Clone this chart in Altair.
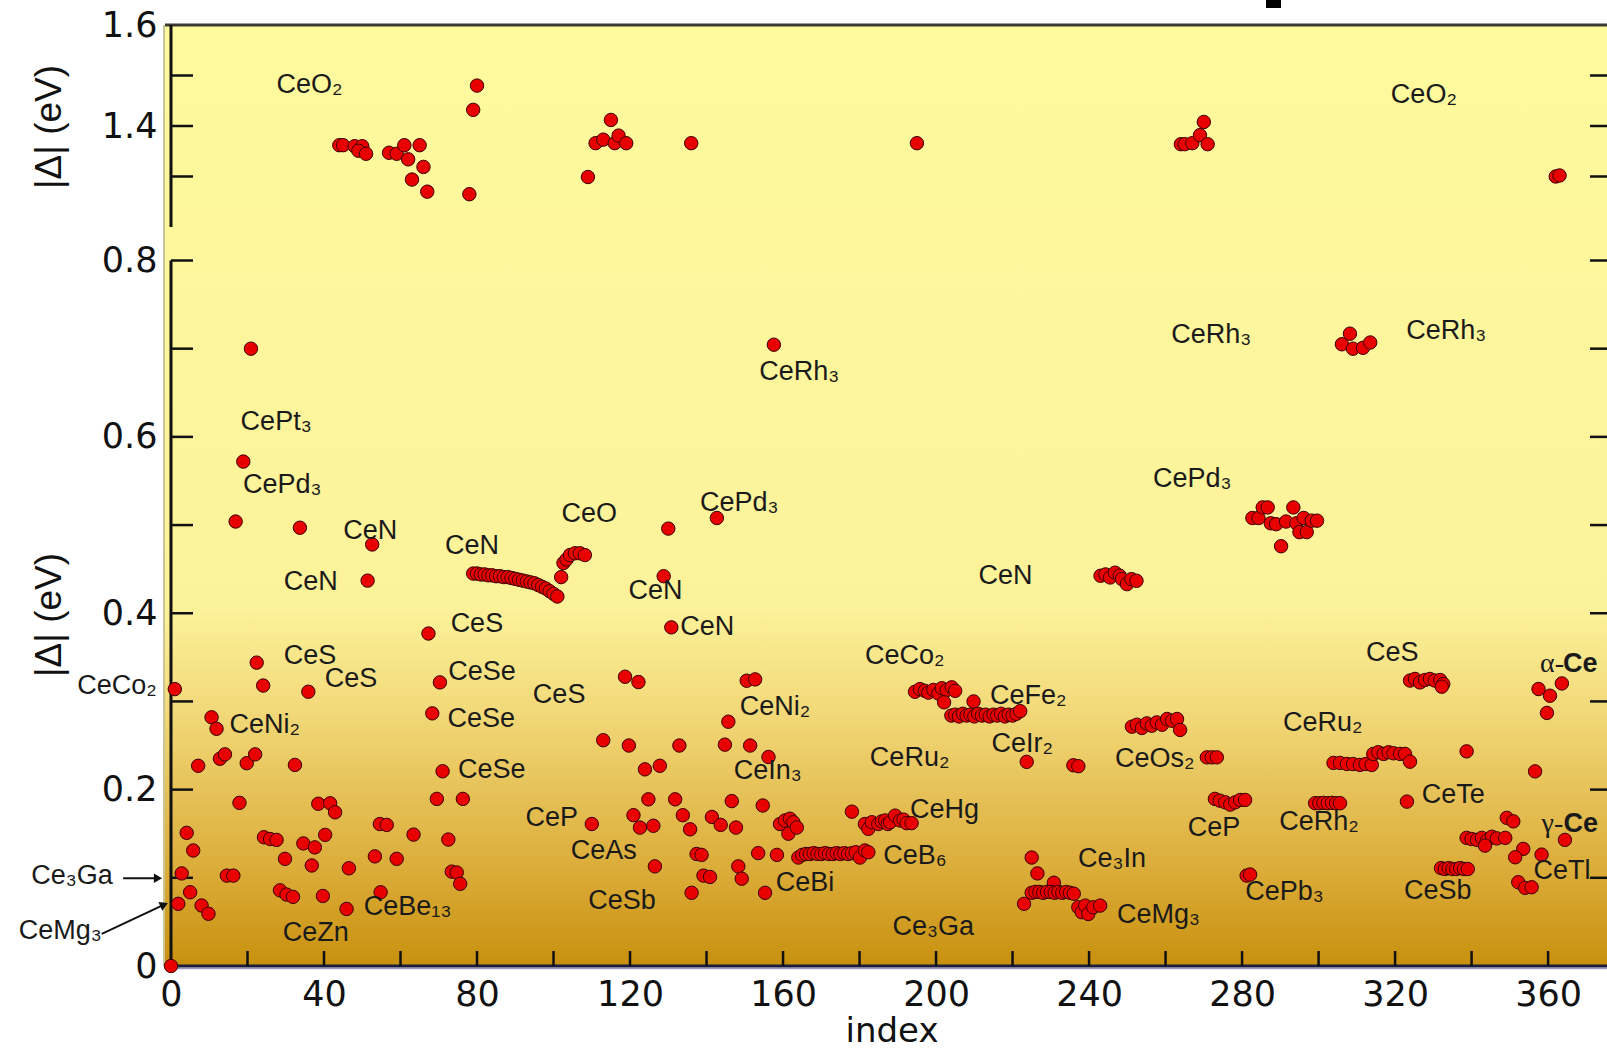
import altair as alt
import pandas as pd

# ---------------- data: (index, |Delta| in eV) ----------------
pts_upper = [(44, 1.362), (45, 1.362), (48, 1.360), (50, 1.360), (49, 1.351), (51, 1.345),
             (57, 1.347), (59, 1.345), (61, 1.362), (62, 1.334), (65, 1.362), (66, 1.319),
             (63, 1.294), (67, 1.270), (80, 1.480), (79, 1.432), (78, 1.265),
             (109, 1.299), (111, 1.366), (113, 1.373), (115, 1.412), (116, 1.366), (117, 1.381),
             (119, 1.366), (136, 1.366), (195, 1.366),
             (264, 1.364), (265, 1.364), (267, 1.366), (269, 1.382), (270, 1.408), (271, 1.364),
             (362, 1.300), (363, 1.302)]

pts_0_40 = [(0, 0.0), (1.0, 0.314), (1.9, 0.0705), (2.8, 0.105), (4.1, 0.151), (5.0, 0.0836),
            (5.8, 0.131), (7.1, 0.227), (8.0, 0.0686), (9.8, 0.0592), (10.6, 0.282), (11.9, 0.269),
            (12.8, 0.235), (14.1, 0.240), (14.6, 0.1025), (16.3, 0.1025), (16.9, 0.504), (17.9, 0.185),
            (18.9, 0.572), (19.8, 0.230), (20.9, 0.700), (22.0, 0.240), (22.4, 0.344), (24.1, 0.318),
            (24.3, 0.146), (25.9, 0.144), (27.6, 0.143), (28.5, 0.0858), (29.8, 0.1215), (30.2, 0.081),
            (31.9, 0.0784), (32.4, 0.228), (33.7, 0.497), (34.6, 0.139), (35.9, 0.311), (36.8, 0.114),
            (37.6, 0.1345), (38.5, 0.184), (39.7, 0.0794)]

pts_40_80 = [(40.3, 0.1487), (41.6, 0.1845), (42.9, 0.1743), (45.9, 0.0647), (46.5, 0.1108),
             (51.4, 0.437), (52.6, 0.478), (53.3, 0.1243), (54.6, 0.161), (54.8, 0.0836), (56.4, 0.160),
             (59.0, 0.1215), (63.4, 0.149), (67.3, 0.377), (68.3, 0.2865), (69.5, 0.1895), (70.3, 0.3216),
             (71.0, 0.2208), (72.5, 0.1434), (73.4, 0.107), (74.7, 0.106), (75.6, 0.0932), (76.3, 0.1895)]

pts_cen_line = [(79, 0.445), (80, 0.445), (81, 0.444), (82, 0.444), (83, 0.443), (84, 0.443), (85, 0.442),
                (86, 0.442), (87, 0.441), (88, 0.441), (89, 0.440), (90, 0.439), (91, 0.438), (92, 0.437),
                (93, 0.436), (94, 0.435), (95, 0.434), (96, 0.432), (97, 0.430), (98, 0.428), (99, 0.425),
                (100, 0.422), (101, 0.419)]

pts_ceo = [(102, 0.441), (102.6, 0.457), (103.4, 0.461), (104.3, 0.466), (105.6, 0.468), (106.9, 0.468),
           (108.2, 0.466)]

pts_110_160 = [(110.0, 0.161), (113.0, 0.256), (118.7, 0.328), (119.7, 0.250), (120.9, 0.171), (122.2, 0.322),
               (122.6, 0.157), (123.9, 0.223), (124.8, 0.189), (126.1, 0.159), (126.5, 0.113), (127.8, 0.227),
               (128.8, 0.442), (130.0, 0.496), (130.8, 0.384), (131.8, 0.189), (132.9, 0.250), (133.8, 0.171),
               (135.7, 0.155), (136.1, 0.083), (137.4, 0.127), (138.7, 0.126), (139.2, 0.1025), (140.9, 0.101),
               (141.4, 0.169), (142.7, 0.508), (143.7, 0.160), (144.8, 0.251), (145.7, 0.277), (146.6, 0.187),
               (147.7, 0.157), (148.3, 0.113), (149.2, 0.099), (150.5, 0.3235), (151.4, 0.250), (152.7, 0.325),
               (153.5, 0.128), (154.7, 0.182), (155.3, 0.083), (156.2, 0.237), (157.6, 0.7045), (158.4, 0.126)]

pts_cein3 = [(159.2, 0.161), (160.5, 0.165), (161.8, 0.167), (162.7, 0.163), (161.4, 0.150), (163.6, 0.157)]

pts_ceb6 = [(164, 0.123), (165, 0.126), (166, 0.127), (167, 0.127), (168, 0.128), (169, 0.127), (170, 0.127),
            (171, 0.128), (172, 0.127), (173, 0.127), (174, 0.128), (175, 0.127), (176, 0.128), (177, 0.127),
            (178, 0.128), (179, 0.129), (180.1, 0.123), (181.4, 0.131), (182.3, 0.129), (178.0, 0.175)]

pts_cehg = [(181.4, 0.161), (182.3, 0.1555), (183.2, 0.163), (184.9, 0.161), (185.8, 0.164), (186.7, 0.165),
            (187.4, 0.161), (188.0, 0.163), (189.3, 0.1705), (190.6, 0.165), (191.5, 0.166), (192.3, 0.162),
            (193.6, 0.162)]

pts_ceco2 = [(194.5, 0.311), (195.8, 0.314), (197.1, 0.312), (198.0, 0.310), (199.3, 0.313), (200.6, 0.309),
             (201.5, 0.315), (202.8, 0.313), (204.1, 0.316), (205.0, 0.312), (202.1, 0.299)]

pts_cefe2 = [(204, 0.284), (205, 0.285), (206, 0.283), (207, 0.286), (208, 0.284), (209, 0.285), (210, 0.283),
             (211, 0.286), (212, 0.284), (213, 0.285), (214, 0.283), (215, 0.285), (216, 0.284), (217, 0.286),
             (218, 0.283), (219, 0.285), (220, 0.284), (221, 0.286), (222, 0.289), (209.8, 0.300)]

pts_220_245 = [(223.7, 0.2315), (235.9, 0.2276), (237.2, 0.2266), (225.0, 0.123), (226.5, 0.105), (230.8, 0.0944),
               (223.0, 0.0705), (225, 0.083), (226, 0.084), (227, 0.084), (228, 0.083), (229, 0.084),
               (230, 0.084), (231, 0.083), (232, 0.084), (233, 0.083), (234, 0.084), (235, 0.083), (236, 0.082),
               (237.2, 0.0666), (238.1, 0.061), (239.0, 0.0685), (239.8, 0.059), (241.1, 0.0666), (242.9, 0.0685)]

pts_cen_cluster = [(243.0, 0.4425), (244.3, 0.444), (245.5, 0.4406), (246.8, 0.446), (248.0, 0.4425),
                   (248.6, 0.4387), (249.9, 0.433), (251.1, 0.4387), (252.4, 0.4368)]

pts_ceos2 = [(251.2, 0.2714), (252.5, 0.2736), (253.8, 0.2699), (255.1, 0.2751), (256.4, 0.2725), (257.7, 0.2762),
             (259.1, 0.2736), (260.4, 0.2801), (261.7, 0.2781), (263.0, 0.2801), (263.8, 0.2677),
             (270.8, 0.2366), (272.1, 0.2366), (273.4, 0.2366)]

pts_270_300 = [(272.9, 0.1895), (274.2, 0.1875), (275.6, 0.1856), (276.9, 0.183), (278.2, 0.1856), (279.5, 0.1883),
               (280.8, 0.1883), (281.2, 0.1025), (282.1, 0.1037),
               (282.7, 0.508), (284.3, 0.508), (285.4, 0.520), (286.7, 0.520), (287.5, 0.502), (288.9, 0.501),
               (290.2, 0.476), (291.5, 0.504), (293.4, 0.520), (294.2, 0.502), (295.0, 0.492), (296.1, 0.508),
               (296.9, 0.492), (298.2, 0.505), (299.6, 0.505)]

pts_300_340 = [(299.1, 0.1846), (300.2, 0.1846), (301.3, 0.185), (302.4, 0.1846), (303.5, 0.185), (304.6, 0.1846),
               (305.6, 0.1846),
               (306.1, 0.705), (308.2, 0.717), (309.0, 0.700), (311.6, 0.701), (313.5, 0.707),
               (303.9, 0.2303), (305.6, 0.2303), (307.4, 0.2291), (309.0, 0.229), (310.8, 0.228), (312.3, 0.229),
               (313.9, 0.228), (314.3, 0.2405), (315.6, 0.2424), (317.0, 0.2405), (318.3, 0.2424), (319.6, 0.2412),
               (321.3, 0.2405), (322.6, 0.2405), (323.9, 0.2317), (323.1, 0.1864),
               (323.9, 0.3237), (325.2, 0.3255), (326.5, 0.3216), (327.8, 0.3243), (329.1, 0.3255), (330.4, 0.3237),
               (331.8, 0.3243), (332.6, 0.3198), (332.2, 0.3167),
               (332, 0.111), (333, 0.110), (334, 0.111), (335, 0.110), (336, 0.110), (337, 0.111), (338, 0.110),
               (339, 0.110)]

pts_340_370 = [(338.7, 0.2434), (338.7, 0.1453), (340.0, 0.144), (341.4, 0.143), (342.7, 0.1453), (344.0, 0.142),
               (345.3, 0.1466), (346.6, 0.1447), (348.8, 0.1453), (343.5, 0.1365), (349.2, 0.168), (350.9, 0.164),
               (356.6, 0.2207), (353.5, 0.1328), (351.4, 0.1233), (358.3, 0.1263), (352.2, 0.095), (354.0, 0.0886),
               (355.7, 0.0893), (364.4, 0.143), (357.5, 0.3141), (360.5, 0.3065), (363.6, 0.3204), (359.7, 0.287)]

# compound labels: (text, index, |Delta|)
labels_left = [("CeO₂", 27.6, 1.482), ("CeO₂", 318.9, 1.462),
               ("CeRh₃", 153.8, 0.673), ("CeRh₃", 261.5, 0.715), ("CeRh₃", 322.9, 0.7196),
               ("CePt₃", 18.2, 0.617), ("CePd₃", 18.8, 0.545), ("CePd₃", 138.3, 0.5245), ("CePd₃", 256.7, 0.552),
               ("CeO", 102.1, 0.5124),
               ("CeN", 45.0, 0.493), ("CeN", 29.5, 0.436), ("CeN", 71.6, 0.4765), ("CeN", 119.6, 0.4247),
               ("CeN", 133.1, 0.384), ("CeN", 211.1, 0.442),
               ("CeS", 73.1, 0.3877), ("CeS", 29.5, 0.3514), ("CeS", 40.2, 0.3258), ("CeS", 94.6, 0.3073),
               ("CeS", 312.4, 0.355),
               ("CeSe", 72.5, 0.333), ("CeSe", 72.3, 0.2806), ("CeSe", 75.0, 0.2225),
               ("CeNi₂", 15.3, 0.2737), ("CeNi₂", 148.7, 0.2934),
               ("CeCo₂", 181.4, 0.3514), ("CeFe₂", 214.1, 0.306), ("CeIr₂", 214.5, 0.252), ("CeRu₂", 182.7, 0.2353),
               ("CeOs₂", 246.8, 0.2342), ("CeRu₂", 290.7, 0.2759), ("CeIn₃", 147.1, 0.2214), ("CeTe", 327.0, 0.194),
               ("CeHg", 193.2, 0.177), ("CeP", 92.7, 0.168), ("CeP", 265.8, 0.1564), ("CeRh₂", 289.7, 0.163),
               ("CeAs", 104.5, 0.1308), ("CeB₆", 186.2, 0.125), ("CeBi", 158.1, 0.0937), ("Ce₃In", 237.1, 0.1215),
               ("CePb₃", 280.8, 0.0843), ("CeSb", 322.3, 0.0856), ("CeSb", 109.1, 0.074), ("CeMg₃", 247.3, 0.0577),
               ("Ce₃Ga", 188.6, 0.0437), ("CeZn", 29.2, 0.0379), ("CeBe₁₃", 50.4, 0.067), ("CeTl", 356.2, 0.108)]
labels_right = [("CeCo₂", -3.7, 0.317), ("Ce₃Ga", -15.2, 0.1025), ("CeMg₃", -18.1, 0.0402)]
labels_greek = [("α-", 357.9, 0.3424), ("γ-", 358.3, 0.161)]
labels_bold = [("Ce", 363.9, 0.3424), ("Ce", 364.0, 0.161)]

# arrows pointing at the axis: (x_start, y_start, x_end, y_end, head angle)
arrows = [(-12.5, 0.0995, -3.4, 0.0995, 0), (-18.1, 0.0365, -1.8, 0.0695, 336)]

x_tick_labels = [0, 40, 80, 120, 160, 200, 240, 280, 320, 360]
x_tick_marks = [20, 40, 60, 80, 100, 120, 140, 160, 180, 200, 220, 240, 260, 280, 300, 320, 340, 360]
y_tick_labels = [0, 0.2, 0.4, 0.6, 0.8, 1.4, 1.6]
y_tick_marks = [0.1, 0.2, 0.3, 0.4, 0.5, 0.6, 0.7, 0.8, 1.3, 1.4, 1.5]
axis_segments = [(1.6, 1.2), (0.8, 0.0)]

# ---------------- chart ----------------
W, H = 1436, 941
FONT = "Liberation Sans"
TICKFONT = "DejaVu Sans"
x_scale = alt.Scale(domain=[0, 375.4], nice=False, zero=False)
y_scale = alt.Scale(domain=[0, 0.8, 1.2, 1.6], range=[H, 235.5, 202, 0], nice=False, zero=False)

x_axis = alt.Axis(values=x_tick_labels, labelFontSize=35, labelFont=TICKFONT, labelColor="#111111",
                  labelPadding=11, ticks=False, domain=False, grid=False, title=None,
                  labelFlush=False, labelOverlap=False, format="d")
y_axis = alt.Axis(values=y_tick_labels, labelFontSize=35, labelFont=TICKFONT, labelColor="#111111",
                  labelPadding=14, ticks=False, domain=False, grid=False, title=None,
                  labelOverlap=False, labelFlush=False,
                  labelExpr="datum.value == 0 ? '0' : format(datum.value, '.1f')")


def X(field):
    return alt.X(field, type="quantitative", scale=x_scale, axis=x_axis)


def Y(field):
    return alt.Y(field, type="quantitative", scale=y_scale, axis=y_axis)


all_pts = (pts_upper + pts_0_40 + pts_40_80 + pts_cen_line + pts_ceo + pts_110_160 + pts_cein3 + pts_ceb6
           + pts_cehg + pts_ceco2 + pts_cefe2 + pts_220_245 + pts_cen_cluster + pts_ceos2 + pts_270_300
           + pts_300_340 + pts_340_370)
df_pts = pd.DataFrame(all_pts, columns=["idx", "val"])
one = pd.DataFrame({"a": [0]})

grad = alt.LinearGradient(
    gradient="linear", x1=0, x2=0, y1=0, y2=1,
    stops=[alt.GradientStop(color="#FFFA9E", offset=0),
           alt.GradientStop(color="#FCF29A", offset=0.62),
           alt.GradientStop(color="#F3DB7C", offset=0.72),
           alt.GradientStop(color="#E7C35A", offset=0.81),
           alt.GradientStop(color="#D9A934", offset=0.91),
           alt.GradientStop(color="#C8900E", offset=1.0)])

bg = alt.Chart(one).mark_rect(fill=grad).encode(
    x=alt.value(-6), x2=alt.value(W), y=alt.value(0), y2=alt.value(H))
strip = alt.Chart(one).mark_rule(color="#B8B078", strokeWidth=1.5).encode(
    x=alt.value(-7), y=alt.value(0), y2=alt.value(H))

top_border = alt.Chart(one).mark_rule(color="#3A3A30", strokeWidth=3).encode(
    x=alt.value(-6), x2=alt.value(W), y=alt.value(0))
bottom_axis_light = alt.Chart(one).mark_rule(color="#9A9AC0", strokeWidth=1.5).encode(
    x=alt.value(0), x2=alt.value(W), y=alt.value(H + 2.5))
bottom_axis = alt.Chart(one).mark_rule(color="#1C1C3C", strokeWidth=3).encode(
    x=alt.value(0), x2=alt.value(W), y=alt.value(H))

seg_df = pd.DataFrame(axis_segments, columns=["y1", "y2"])
left_axis = alt.Chart(seg_df).mark_rule(color="#111111", strokeWidth=3).encode(
    x=alt.value(0), y=Y("y1"), y2="y2:Q")

ytick_df = pd.DataFrame({"v": y_tick_marks})
left_ticks = alt.Chart(ytick_df).mark_rule(color="#111111", strokeWidth=2.5).encode(
    y=Y("v"), x=alt.value(0), x2=alt.value(22))
right_ticks = alt.Chart(ytick_df).mark_rule(color="#111111", strokeWidth=2.5).encode(
    y=Y("v"), x=alt.value(W - 17), x2=alt.value(W))
xtick_df = pd.DataFrame({"t": x_tick_marks})
bottom_ticks = alt.Chart(xtick_df).mark_rule(color="#111111", strokeWidth=2.5).encode(
    x=X("t"), y=alt.value(H), y2=alt.value(H - 15))

points = alt.Chart(df_pts).mark_circle(size=180, fill="#E80000", stroke="#3A0000", strokeWidth=1,
                                       opacity=1).encode(x=X("idx"), y=Y("val"))


def text_layer(rows, align, font=FONT, weight="normal", size=27):
    df = pd.DataFrame(rows, columns=["text", "idx", "val"])
    return alt.Chart(df).mark_text(font=font, fontSize=size, fontWeight=weight, align=align,
                                   baseline="middle", color="#1A1A1A").encode(
        x=X("idx"), y=Y("val"), text="text:N")


lab_l = text_layer(labels_left, "left")
lab_r = text_layer(labels_right, "right")
lab_g = text_layer(labels_greek, "left", font="Liberation Serif", size=28)
lab_b = text_layer(labels_bold, "left", weight="bold")

arr_df = pd.DataFrame(arrows, columns=["x1", "y1", "x2", "y2", "ang"])
arrow_lines = alt.Chart(arr_df).mark_rule(color="#111111", strokeWidth=2).encode(
    x=X("x1"), y=Y("y1"), x2="x2:Q", y2="y2:Q")
arrow_heads = alt.Chart(arr_df).mark_point(shape="triangle-right", filled=True, size=90,
                                           color="#111111", opacity=1).encode(
    x=X("x2"), y=Y("y2"), angle=alt.Angle("ang:Q", scale=None))

x_title = alt.Chart(one).mark_text(text="index", font=TICKFONT, fontSize=34, align="center",
                                   baseline="alphabetic", color="#111111").encode(
    x=alt.value(721), y=alt.value(1017))
y_title_top = alt.Chart(one).mark_text(text="|Δ| (eV)", font=FONT, fontSize=37, angle=270,
                                       align="center", baseline="middle", color="#111111").encode(
    x=alt.value(-121), y=alt.value(102))
y_title_low = alt.Chart(one).mark_text(text="|Δ| (eV)", font=FONT, fontSize=37, angle=270,
                                       align="center", baseline="middle", color="#111111").encode(
    x=alt.value(-121), y=alt.value(590))
black_box = alt.Chart(one).mark_rect(color="#000000").encode(
    x=alt.value(1095), x2=alt.value(1110), y=alt.value(-25), y2=alt.value(-17))

chart = alt.layer(
    bg, strip, top_border, bottom_axis_light, bottom_axis, left_axis, left_ticks, right_ticks, bottom_ticks,
    points, lab_l, lab_r, lab_g, lab_b, arrow_lines, arrow_heads, x_title, y_title_top, y_title_low, black_box
).properties(
    width=W, height=H,
    padding={"left": 171, "top": 25, "right": 0, "bottom": 85},
    autosize=alt.AutoSizeParams(type="none"),
    background="#FFFFFF",
).configure_view(stroke=None)

chart.save("out.html", embed_options={"renderer": "svg", "actions": False})
